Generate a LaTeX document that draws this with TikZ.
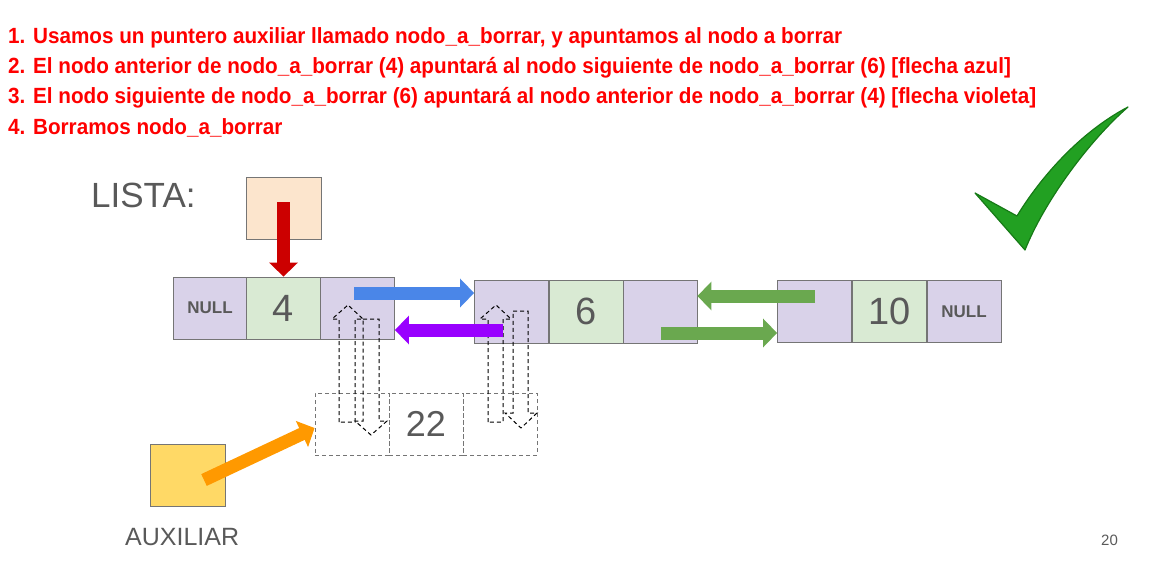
\documentclass[tikz,border=0pt]{standalone}
\usepackage{fontspec}
\setmainfont{Liberation Sans}
\newfontfamily\headfont[FakeStretch=0.94]{Liberation Sans}
\usetikzlibrary{arrows.meta}

\definecolor{txtgray}{HTML}{595959}
\definecolor{cellline}{HTML}{757575}
\definecolor{cellpurple}{HTML}{D9D2E9}
\definecolor{cellgreen}{HTML}{D9EAD3}
\definecolor{peach}{HTML}{FCE5CD}
\definecolor{auxyellow}{HTML}{FFD966}
\definecolor{redarrow}{HTML}{CC0000}
\definecolor{bluearrow}{HTML}{4A86E8}
\definecolor{purplearrow}{HTML}{9900FF}
\definecolor{greenarrow}{HTML}{6AA84F}
\definecolor{orangearrow}{HTML}{FF9900}
\definecolor{checkgreen}{HTML}{22A022}
\definecolor{checkdark}{HTML}{167A16}

\begin{document}
\begin{tikzpicture}[x=1pt, y=-1pt,
    cell/.style={draw=cellline, line width=0.8pt, minimum width=74pt, minimum height=62pt, inner sep=0pt, text=txtgray},
    ptr/.style={cell, fill=cellpurple, font=\fontsize{17}{17}\selectfont\bfseries},
    val/.style={cell, fill=cellgreen, font=\fontsize{38}{38}\selectfont},
    gone/.style={draw=cellline, dashed, dash pattern=on 4pt off 3pt, line width=0.8pt, minimum width=74pt, minimum height=62pt, inner sep=0pt, text=txtgray, font=\fontsize{36}{36}\selectfont},
    hollow/.style={draw=black, line width=1pt, dash pattern=on 4pt off 3pt},
    block/.style={line width=13pt, -{Triangle[width=28pt,length=14pt]}},
    step line/.style={anchor=base west, inner sep=0pt, text=red, font=\headfont\fontsize{22}{22}\selectfont\bfseries}]
\useasboundingbox (0,0) rectangle (1154,565);

% Instructions
\node[step line] (s1) at (8,43) {1. Usamos un puntero auxiliar llamado nodo\_a\_borrar, y apuntamos al nodo a borrar};
\node[step line] (s2) at (8,73) {2. El nodo anterior de nodo\_a\_borrar (4) apuntará al nodo siguiente de nodo\_a\_borrar (6) [flecha azul]};
\node[step line] (s3) at (8,103) {3. El nodo siguiente de nodo\_a\_borrar (6) apuntará al nodo anterior de nodo\_a\_borrar (4) [flecha violeta]};
\node[step line] (s4) at (8,134) {4. Borramos nodo\_a\_borrar};

% Labels
\node[anchor=base west, inner sep=0pt, text=txtgray, font=\fontsize{35}{35}\selectfont] (listalbl) at (91,207) {LISTA:};
\node[anchor=base west, inner sep=0pt, text=txtgray, font=\fontsize{25}{25}\selectfont] (auxlbl) at (125,545) {AUXILIAR};
\node[anchor=base west, inner sep=0pt, text=txtgray, font=\fontsize{15}{15}\selectfont] (page) at (1101,545) {20};

% Pointer boxes
\node[cell, fill=peach, minimum width=75pt] (lista) at (283.5,208) {};
\node[cell, fill=auxyellow, minimum width=75pt] (aux) at (188,475) {};

% Nodes of the list
\node[ptr] (null1) at (210,308) {NULL};
\node[val] (n4) at (283.5,308) {4};
\node[ptr] (nx4) at (357.5,308) {};

\node[ptr, minimum height=63pt] (pv6) at (511.5,311.5) {};
\node[val, minimum height=63pt] (n6) at (586,311.5) {6};
\node[ptr, minimum height=63pt] (nx6) at (660,311.5) {};

\node[ptr] (pv10) at (814.5,311.5) {};
\node[val] (n10) at (889.5,311.5) {10};
\node[ptr] (null2) at (964,311.5) {NULL};

% Node to delete
\node[gone] (d1) at (352,424) {};
\node[gone] (n22) at (426,424) {22};
\node[gone] (d2) at (500,424) {};

% Old links (dashed)
\draw[hollow] (339,422) -- (339,319) -- (332,319) -- (348,305) -- (363,319) -- (355,319) -- (355,422) -- cycle;
\draw[hollow] (363,319) -- (379,319) -- (379,421) -- (387,421) -- (371,435) -- (355,421) -- (363,421) -- cycle;
\draw[hollow] (488,422) -- (488,319) -- (480,319) -- (496,305) -- (511,319) -- (503,319) -- (503,422) -- cycle;
\draw[hollow] (513,311) -- (528,311) -- (528,413) -- (537,413) -- (521,428) -- (505,413) -- (513,413) -- cycle;

% Links
\coordinate (lt) at (283.5,202);
\coordinate (bt) at (354,293);
\coordinate (pt) at (503,330);
\coordinate (g1t) at (815,296);
\coordinate (g2t) at (661,333);
\coordinate (ot) at (204,480);

\draw[block, redarrow] (lt) -- (n4.north);
\draw[block, bluearrow] (bt) -- (bt -| pv6.west);
\draw[block, purplearrow] (pt) -- (pt -| nx4.east);
\draw[block, greenarrow] (g1t) -- (g1t -| nx6.east);
\draw[block, greenarrow] (g2t) -- (g2t -| pv10.west);
\draw[block, orangearrow] (ot) -- ([yshift=-4pt]d1.west);

% Check mark
\filldraw[fill=checkgreen, draw=checkdark, line width=1.2pt, line join=round]
  (975,193) -- (1017,216) .. controls (1040,178) and (1080,132) .. (1128,107)
  .. controls (1090,140) and (1045,200) .. (1025,250) -- cycle;
\end{tikzpicture}
\end{document}
